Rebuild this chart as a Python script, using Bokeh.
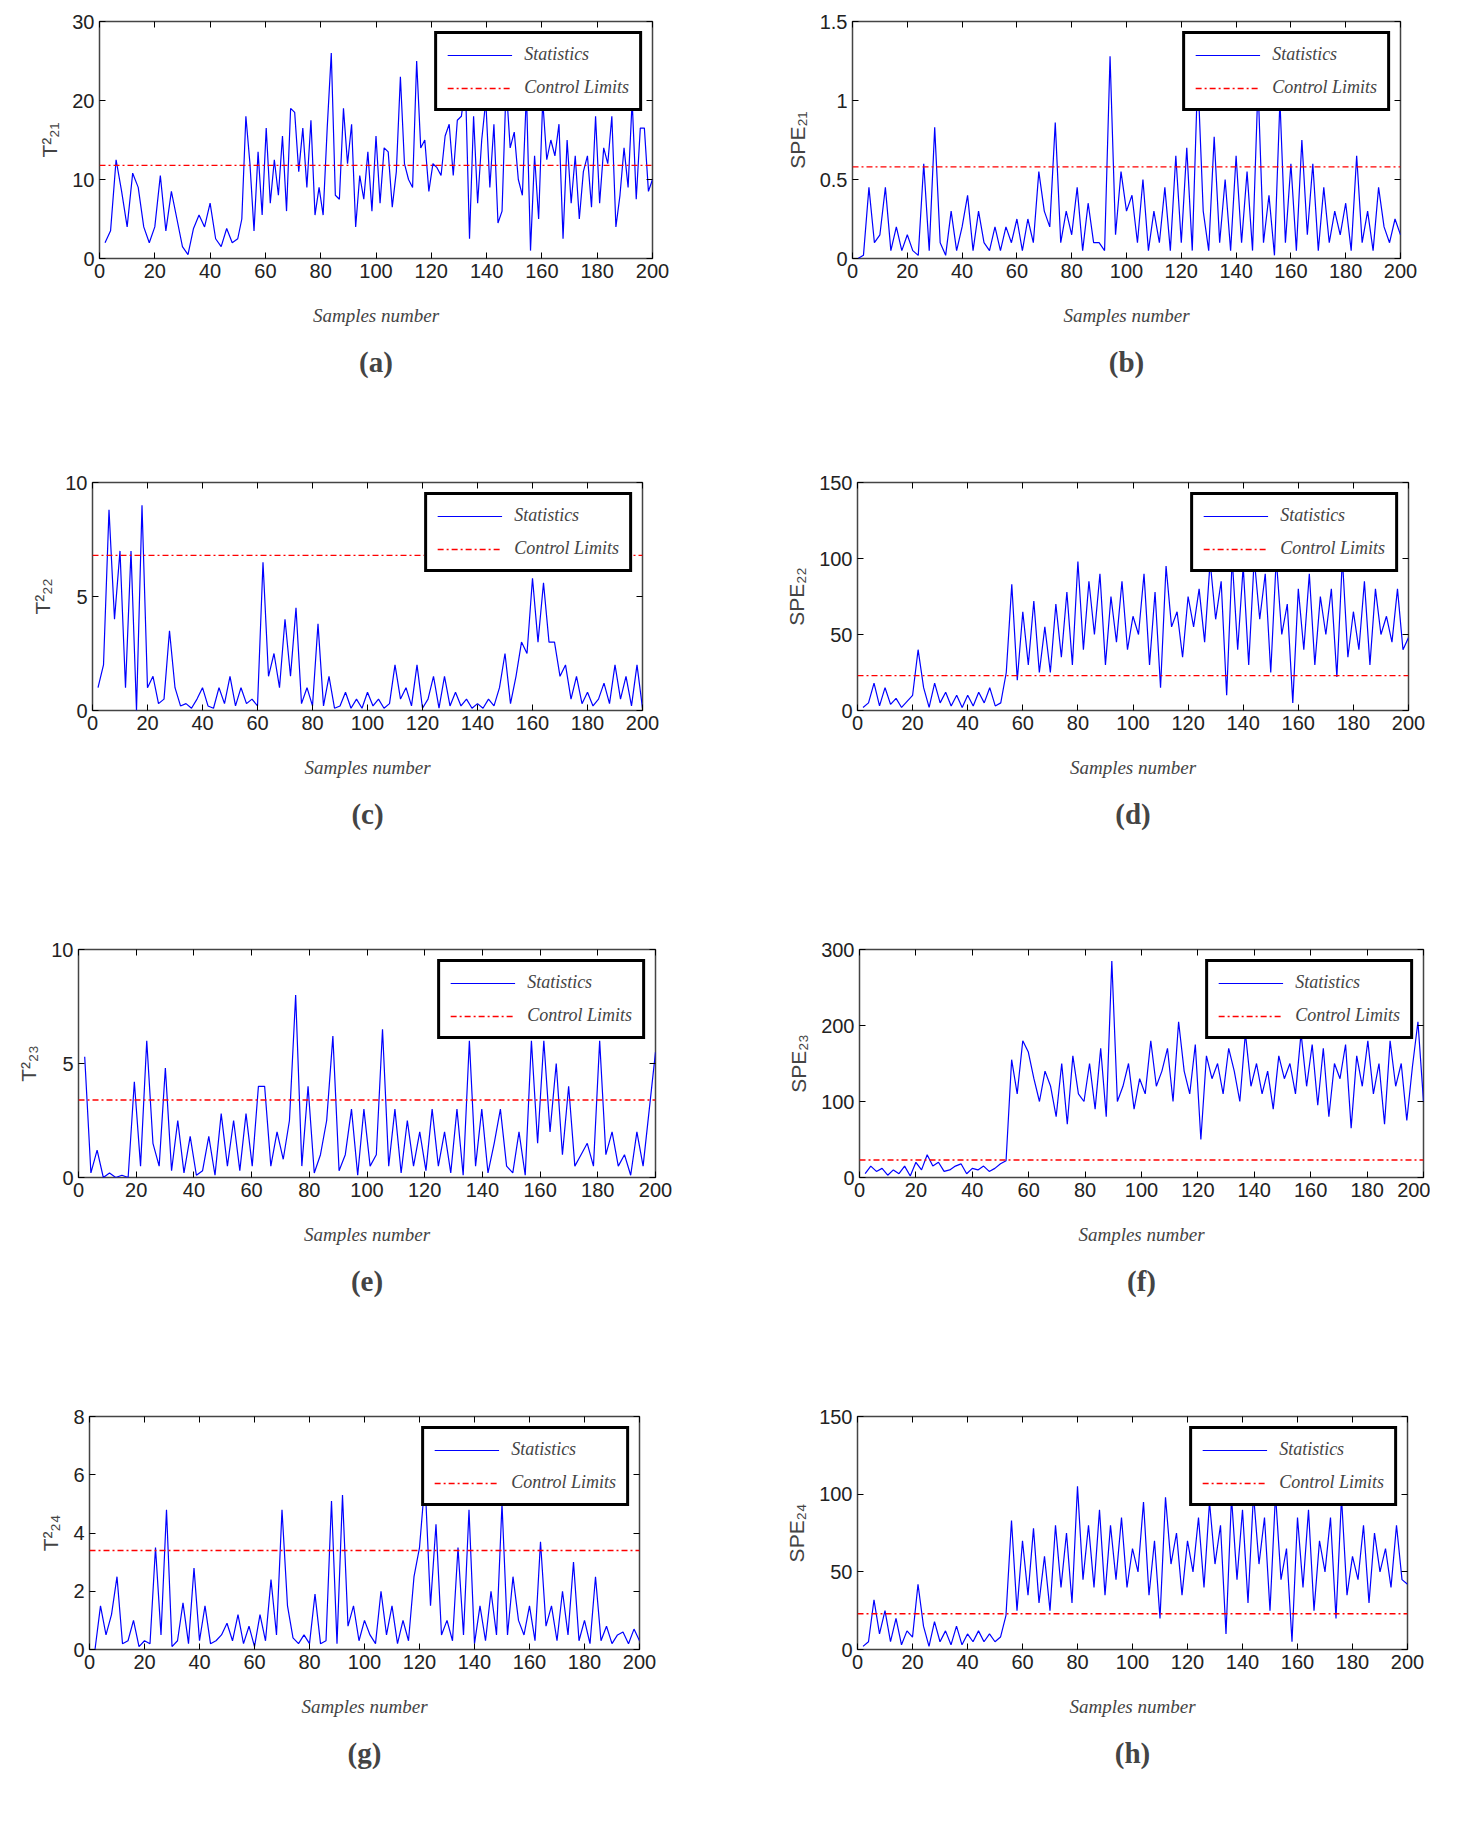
from bokeh.plotting import figure
from bokeh.layouts import column, row
from bokeh.models import FixedTicker, LinearAxis, Title, Range1d, Legend
from bokeh.embed import file_html
from bokeh.resources import INLINE

# --- data ---
t2_21 = [2, 3.5, 12.5, 8.5, 4, 10.8, 9, 4, 2, 4, 10.5, 3.5, 8.5, 5, 1.5, 0.5, 3.8, 5.5, 4, 7, 2.5, 1.5, 3.8, 2, 2.5,
         5, 18, 12, 3.5, 13.5, 5.5, 16.5, 7, 12.5, 8, 15.5, 6, 19, 18.5, 11, 16.5, 9, 17.5, 5.5, 9, 5.5, 16.5, 26, 8, 7.5,
         19, 12, 17, 4, 10.5, 7.5, 13.5, 6, 15.5, 7, 14, 13.5, 6.5, 11, 23, 12, 10, 9, 25, 14, 15, 8.5, 12, 11.5, 10.5,
         15.5, 17, 10.5, 17.5, 18, 22, 2.5, 18, 7, 15, 20, 9, 17, 4.5, 6, 22, 14, 16, 10, 8, 21, 1, 13, 5, 20,
         12.5, 15, 13, 17, 2.5, 15, 7, 13, 5, 11, 13, 6.5, 18, 7, 14, 12, 18, 4, 8, 14, 9, 20, 7.5, 16.5, 16.5, 8.5, 10]
spe_21 = [0, 0.02, 0.45, 0.1, 0.15, 0.45, 0.05, 0.2, 0.05, 0.15, 0.05, 0.02, 0.6, 0.05, 0.83, 0.1, 0.02, 0.3, 0.05, 0.2,
          0.4, 0.05, 0.3, 0.1, 0.05, 0.2, 0.05, 0.2, 0.1, 0.25, 0.05, 0.25, 0.1, 0.55, 0.3, 0.2, 0.86, 0.1, 0.3, 0.15,
          0.45, 0.05, 0.35, 0.1, 0.1, 0.05, 1.28, 0.15, 0.55, 0.3, 0.4, 0.1, 0.5, 0.05, 0.3, 0.1, 0.45, 0.05, 0.65, 0.1,
          0.7, 0.05, 1.17, 0.3, 0.05, 0.77, 0.1, 0.5, 0.05, 0.65, 0.1, 0.55, 0.05, 1.1, 0.1, 0.4, 0.02, 1.0, 0.1, 0.6,
          0.05, 0.75, 0.15, 0.6, 0.05, 0.45, 0.1, 0.3, 0.15, 0.35, 0.05, 0.65, 0.1, 0.3, 0.05, 0.45, 0.2, 0.1, 0.25, 0.15]
t2_22 = [1, 2, 8.8, 4, 7, 1, 7, 0, 9, 1, 1.5, 0.3, 0.5, 3.5, 1, 0.2, 0.3, 0.1, 0.5, 1, 0.2, 0.1, 1, 0.3, 1.5, 0.2, 1,
         0.3, 0.5, 0.2, 6.5, 1.5, 2.5, 1, 4, 1.5, 4.5, 0.3, 1, 0.2, 3.8, 0.2, 1.5, 0.1, 0.2, 0.8, 0.1, 0.5, 0.1, 0.8,
         0.2, 0.5, 0.1, 0.3, 2, 0.5, 1, 0.2, 2, 0.1, 0.5, 1.5, 0.1, 1.5, 0.2, 0.8, 0.2, 0.5, 0.1, 0.3, 0.1, 0.5, 0.2, 1,
         2.5, 0.3, 1.5, 3, 2.5, 5.8, 3, 5.6, 3, 3, 1.5, 2, 0.5, 1.5, 0.3, 0.8, 0.2, 0.5, 1.2, 0.3, 2, 0.5, 1.5, 0.2, 2, 0.1]
spe_22 = [2, 5, 18, 3, 15, 4, 8, 2, 6, 10, 40, 15, 2, 18, 5, 12, 3, 10, 2, 10, 3, 12, 5, 15, 3,
          5, 25, 83, 20, 65, 30, 72, 25, 55, 25, 70, 35, 78, 30, 98, 40, 85, 50, 90, 30, 75, 45, 85, 40, 62, 50, 90, 30,
          78, 15, 95, 55, 65, 35, 75, 55, 80, 45, 98, 60, 85, 10, 100, 40, 95, 30, 100, 60, 90, 25, 100, 50, 70, 5, 80,
          40, 90, 30, 75, 50, 80, 22, 100, 35, 65, 40, 85, 30, 80, 50, 62, 45, 80, 40, 48]
t2_23 = [5.3, 0.2, 1.2, 0, 0.2, 0, 0.1, 0, 4.2, 0.5, 6, 1.5, 0.5, 4.8, 0.3, 2.5, 0.2, 1.8, 0.1, 0.3, 1.8, 0.1, 2.8, 0.5,
         2.5, 0.3, 2.8, 0.5, 4, 4, 0.5, 2, 0.8, 2.5, 8, 0.5, 4, 0.2, 1, 2.5, 6.2, 0.3, 1, 3, 0.1, 3, 0.5, 1, 6.5, 0.5, 3,
         0.2, 2.5, 0.5, 2, 0.3, 3, 0.5, 2, 0.2, 3, 0.1, 6, 0.5, 3, 0.2, 1.5, 3, 0.5, 0.2, 2, 0.1, 6, 1.5, 6, 2, 5, 1, 4,
         0.5, 1, 1.5, 0.5, 6, 1, 2, 0.5, 1, 0.1, 2, 0.5, 3, 5.5]
spe_23 = [5, 15, 8, 12, 3, 10, 5, 15, 2, 20, 10, 30, 15, 20, 8, 10, 15, 18, 5, 12, 10, 15, 8, 12, 18,
          22, 155, 110, 180, 165, 130, 100, 140, 120, 80, 150, 70, 160, 110, 100, 150, 90, 170, 80, 285, 100, 120, 150,
          90, 130, 110, 180, 120, 140, 170, 100, 205, 140, 110, 175, 50, 160, 130, 150, 110, 170, 140, 100, 190, 120,
          150, 110, 140, 90, 160, 130, 150, 110, 190, 120, 175, 95, 170, 80, 150, 130, 175, 65, 160, 120, 180, 110, 150,
          70, 180, 120, 150, 75, 145, 205, 100]
t2_24 = [0, 1.5, 0.5, 1.2, 2.5, 0.2, 0.3, 1, 0.1, 0.3, 0.2, 3.5, 0.5, 4.8, 0.1, 0.3, 1.6, 0.2, 2.8, 0.3, 1.5, 0.2, 0.3,
         0.5, 0.9, 0.3, 1.2, 0.2, 0.8, 0.1, 1.2, 0.3, 2.4, 0.5, 4.8, 1.5, 0.4, 0.2, 0.5, 0.2, 1.9, 0.2, 0.3, 5.1, 0.2,
         5.3, 0.8, 1.5, 0.3, 1, 0.5, 0.2, 2, 0.5, 1.5, 0.2, 1, 0.3, 2.5, 3.5, 5.8, 1.5, 4.3, 0.5, 1, 0.3, 3.5, 0.5, 4.8,
         0.2, 1.5, 0.3, 2, 0.5, 5, 0.5, 2.5, 1, 0.5, 1.5, 0.3, 3.7, 0.8, 1.5, 0.3, 2, 0.5, 3, 0.3, 1, 0.2, 2.5, 0.3,
         0.8, 0.2, 0.5, 0.6, 0.2, 0.7, 0.3]
spe_24 = [2, 5, 32, 10, 25, 5, 20, 3, 12, 8, 42, 15, 2, 18, 5, 12, 3, 15, 3, 10, 5, 12, 5, 10, 5,
          8, 22, 83, 25, 70, 35, 78, 30, 60, 25, 80, 40, 75, 30, 105, 45, 80, 40, 90, 35, 80, 45, 85, 40, 65, 50, 95,
          35, 70, 20, 98, 55, 75, 35, 70, 50, 85, 40, 95, 55, 80, 10, 98, 45, 90, 30, 100, 55, 85, 25, 100, 45, 65, 5,
          85, 40, 90, 25, 70, 50, 85, 20, 98, 35, 60, 45, 80, 30, 75, 50, 65, 40, 80, 45, 42]

limits = [11.8, 0.58, 6.8, 23, 3.4, 23, 3.4, 23]
ymax = [30, 1.5, 10, 150, 10, 300, 8, 150]
yticks = [[0, 10, 20, 30], [0, 0.5, 1, 1.5], [0, 5, 10], [0, 50, 100, 150],
          [0, 5, 10], [0, 100, 200, 300], [0, 2, 4, 6, 8], [0, 50, 100, 150]]
ylabels = ["T\u00b2\u2082\u2081", "SPE\u2082\u2081", "T\u00b2\u2082\u2082", "SPE\u2082\u2082",
           "T\u00b2\u2082\u2083", "SPE\u2082\u2083", "T\u00b2\u2082\u2084", "SPE\u2082\u2084"]
series = [t2_21, spe_21, t2_22, spe_22, t2_23, spe_23, t2_24, spe_24]
# series whose first 25 values cover samples 0-50 (the in-control stretch)
split25 = [True, False, False, True, False, True, False, True]
letters = ["a", "b", "c", "d", "e", "f", "g", "h"]

# frame placement per panel: (left border, frame width, top border, frame height)
frames = [(99, 553, 21, 237), (137, 548, 21, 243),
          (92, 550, 20, 235), (142, 551, 27, 239),
          (78, 577, 39, 241), (144, 564, 28, 239),
          (89, 550, 51, 235), (142, 550, 49, 235)]

W, H = 715, 455
tick_font = "Liberation Sans"
serif = "Liberation Serif"


def sample_x(n, split):
    if split:
        return [50 * (k + 1) / 25 for k in range(25)] + \
               [50 + 150 * (k + 1) / (n - 25) for k in range(n - 25)]
    return [200 * (k + 1) / n for k in range(n)]


def panel(i):
    left, fw, top, fh = frames[i]
    ys = series[i]
    xs = sample_x(len(ys), split25[i])
    p = figure(width=W, height=H, output_backend="svg", toolbar_location=None,
               x_range=Range1d(0, 200), y_range=Range1d(0, ymax[i]),
               min_border_left=left, min_border_right=W - left - fw,
               min_border_top=top, min_border_bottom=H - top - fh)
    p.grid.visible = False
    p.outline_line_color = "#444444"
    p.outline_line_width = 1.5
    r1 = p.line(xs, ys, line_color="#0000ff", line_width=1.2)
    r2 = p.line([0, 200], [limits[i], limits[i]], line_color="red", line_width=1.3, line_dash="6 3 2 3")
    leg = Legend(items=[("Statistics", [r1]), ("Control Limits", [r2])], location="top_right",
                 border_line_color="black", border_line_width=3, border_line_alpha=1,
                 label_text_font=serif, label_text_font_style="italic", label_text_font_size="18px",
                 glyph_width=65, spacing=12, padding=10, margin=10, background_fill_alpha=1,
                 label_standoff=12)
    p.add_layout(leg)
    for ax in (p.xaxis[0], p.yaxis[0]):
        ax.major_tick_in = 6
        ax.major_tick_out = 0
        ax.minor_tick_line_color = None
        ax.axis_line_color = None
        ax.major_label_text_font = tick_font
        ax.major_label_text_font_size = "20px"
        ax.major_label_text_color = "#222222"
    p.xaxis.ticker = FixedTicker(ticks=list(range(0, 201, 20)))
    p.yaxis.ticker = FixedTicker(ticks=yticks[i])
    p.xaxis.axis_label = "Samples number"
    p.xaxis.axis_label_text_font = serif
    p.xaxis.axis_label_text_font_style = "italic"
    p.xaxis.axis_label_text_font_size = "19px"
    p.xaxis.axis_label_standoff = 24
    p.yaxis.axis_label = ylabels[i]
    p.yaxis.axis_label_text_font = "Liberation Sans"
    p.yaxis.axis_label_text_font_style = "normal"
    p.yaxis.axis_label_text_font_size = "21px"
    p.yaxis.axis_label_standoff = 8
    # matlab-style ticks on top and right
    for side in ("above", "right"):
        ax = LinearAxis(major_label_text_font_size="0px", axis_line_color=None,
                        major_tick_in=6, major_tick_out=0, minor_tick_line_color=None)
        ax.ticker = FixedTicker(ticks=list(range(0, 201, 20)) if side == "above" else yticks[i])
        p.add_layout(ax, side)
    p.add_layout(Title(text="(" + letters[i] + ")", align="center", text_font=serif, text_font_size="29px",
                       text_font_style="bold", standoff=30), "below")
    return p


figs = [panel(i) for i in range(8)]
layout = column(*[row(figs[2 * r], figs[2 * r + 1]) for r in range(4)], spacing=0)
open("out.html", "w").write(file_html(layout, INLINE))
